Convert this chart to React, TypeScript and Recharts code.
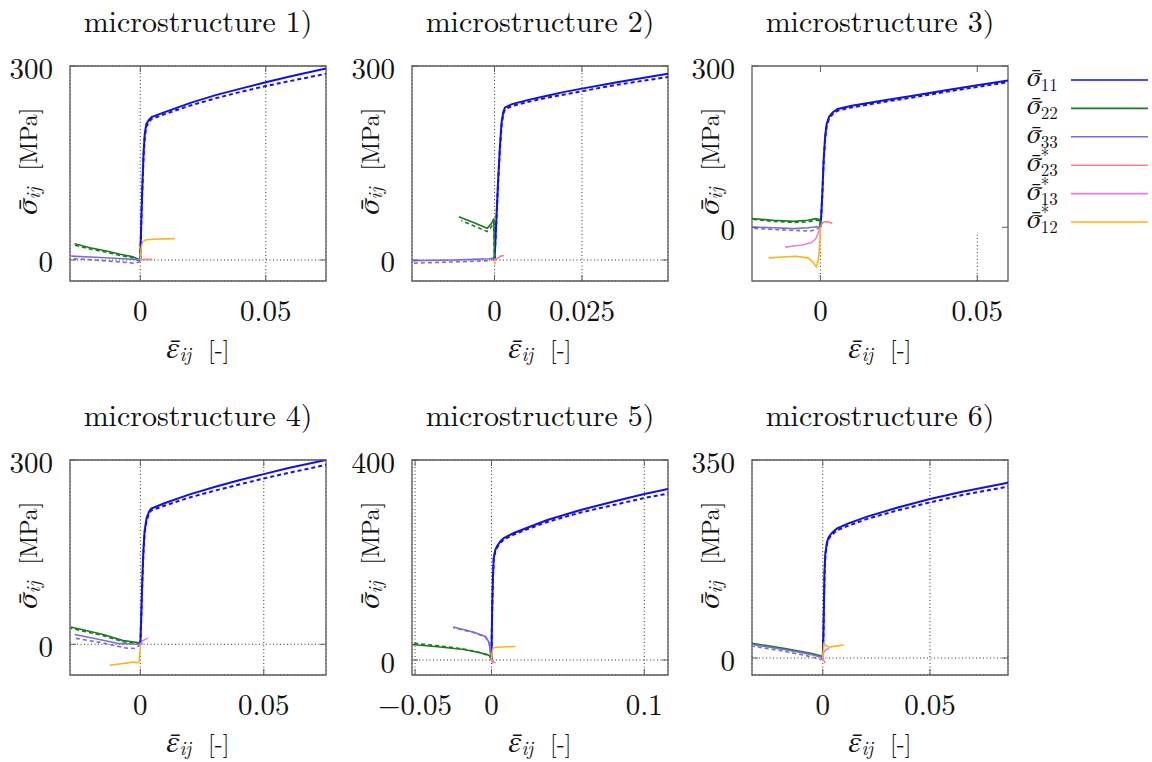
import React from 'react';
import { LineChart, Line, XAxis, YAxis, CartesianGrid, ReferenceArea, ReferenceLine } from 'recharts';

type Pt = [number, number];

// microstructure 1)
const m1S11: Pt[] = [[0, 0], [0.0004, 60], [0.0008, 110], [0.0013, 165], [0.0018, 195], [0.0024, 210], [0.0035, 217], [0.0045, 221], [0.01, 229], [0.02, 243], [0.03, 255], [0.04, 265], [0.05, 275], [0.06, 284], [0.074, 296]];
const m1S11d: Pt[] = [[0, 0], [0.0004, 58], [0.0008, 106], [0.0013, 160], [0.0018, 190], [0.0024, 206], [0.0035, 214], [0.0045, 218], [0.01, 226], [0.02, 239], [0.03, 250], [0.04, 260], [0.05, 269], [0.06, 277], [0.074, 288]];
const m1S22: Pt[] = [[0, 0], [-0.003, 5], [-0.008, 9], [-0.0135, 14], [-0.02, 19], [-0.0262, 25]];
const m1S22d: Pt[] = [[0, -1], [-0.003, 3], [-0.008, 7], [-0.0135, 12], [-0.02, 17], [-0.0262, 23]];
const m1S33: Pt[] = [[0, 0], [-0.005, 1.5], [-0.012, 3], [-0.02, 4.5], [-0.0275, 6]];
const m1S33d: Pt[] = [[0, -2], [-0.002, -5], [-0.008, -3], [-0.015, -1], [-0.022, 1], [-0.0275, 2]];
const m1S23: Pt[] = [[0, 0], [0.002, 1], [0.0048, 1]];
const m1S13: Pt[] = [[0, 0], [0.001, 1]];
const m1S12: Pt[] = [[0, 0], [0.0002, 12], [0.0005, 22], [0.001, 28], [0.002, 31], [0.005, 32], [0.0137, 33]];

// microstructure 2)
const m2S11: Pt[] = [[0, 0], [0.0005, 60], [0.001, 120], [0.0015, 172], [0.002, 212], [0.0025, 229], [0.003, 236], [0.005, 241], [0.01, 248], [0.015, 254], [0.02, 260], [0.025, 265], [0.035, 275], [0.0496, 288]];
const m2S11d: Pt[] = [[0, 0], [0.0005, 58], [0.001, 116], [0.0015, 168], [0.002, 208], [0.0025, 226], [0.003, 233], [0.005, 238], [0.01, 245], [0.015, 251], [0.02, 256], [0.025, 261], [0.035, 271], [0.0496, 283]];
const m2S22: Pt[] = [[0, 0], [-0.0001, 30], [-0.0002, 64], [-0.0008, 57], [-0.0021, 49], [-0.006, 58], [-0.0102, 67]];
const m2S22d: Pt[] = [[0, 0], [-0.0001, 28], [-0.0002, 59], [-0.0008, 52], [-0.0021, 44], [-0.006, 53], [-0.0095, 61]];
const m2S33: Pt[] = [[0, 0], [-0.0005, 3], [-0.0015, 2], [-0.006, 1], [-0.012, 0], [-0.0236, -1]];
const m2S33d: Pt[] = [[0, 0], [-0.0005, 1], [-0.0015, -1], [-0.006, -2], [-0.012, -3], [-0.0236, -5]];
const m2S23: Pt[] = [[0, 0], [0.001, 3], [0.0018, 6], [0.0027, 7]];
const m2S13: Pt[] = [[0, 0], [0.0005, 1]];
const m2S12: Pt[] = [[0, 0], [0.0001, -4], [0.0002, -7]];

// microstructure 3)
const m3S11: Pt[] = [[0, 0], [0.0003, 25], [0.0006, 60], [0.001, 120], [0.0015, 168], [0.002, 192], [0.0028, 206], [0.004, 214], [0.0055, 220], [0.01, 226], [0.02, 236], [0.03, 245], [0.04, 255], [0.05, 264], [0.0598, 273]];
const m3S11d: Pt[] = [[0, 0], [0.0003, 24], [0.0006, 58], [0.001, 116], [0.0015, 164], [0.002, 188], [0.0028, 203], [0.004, 211], [0.0055, 217], [0.01, 223], [0.02, 233], [0.03, 242], [0.04, 252], [0.05, 261], [0.0598, 270]];
const m3S22: Pt[] = [[0, 0], [-0.0001, 14], [-0.0015, 16], [-0.004, 13], [-0.0085, 11], [-0.015, 13], [-0.0218, 16]];
const m3S22d: Pt[] = [[0, 0], [-0.0001, 12], [-0.0015, 13], [-0.004, 10], [-0.0085, 9], [-0.015, 11], [-0.0218, 15]];
const m3S33: Pt[] = [[0, 0], [-0.0013, 1], [-0.004, -1], [-0.0085, -2.5], [-0.015, -1], [-0.0218, 0.5]];
const m3S33d: Pt[] = [[0, 0], [-0.001, -3], [-0.003, -7], [-0.008, -6], [-0.015, -4], [-0.0218, -2]];
const m3S23: Pt[] = [[0, 0], [0.0005, 7], [0.0012, 10], [0.0025, 10], [0.0038, 7]];
const m3S13: Pt[] = [[0, 0], [-0.0003, -4], [-0.0008, -12], [-0.0015, -22], [-0.003, -29], [-0.006, -33], [-0.0112, -37]];
const m3S12: Pt[] = [[0, 0], [-0.0002, -30], [-0.0006, -60], [-0.0013, -74], [-0.0025, -64], [-0.004, -57], [-0.008, -54], [-0.0165, -57]];

// microstructure 4)
const m4S11: Pt[] = [[0, 0], [0.0004, 50], [0.0008, 105], [0.0012, 150], [0.0017, 184], [0.0025, 205], [0.0035, 216], [0.0044, 221], [0.01, 230], [0.02, 244], [0.03, 256], [0.04, 267], [0.05, 277], [0.06, 287], [0.0752, 300]];
const m4S11d: Pt[] = [[0, 0], [0.0004, 48], [0.0008, 102], [0.0012, 146], [0.0017, 180], [0.0025, 201], [0.0035, 213], [0.0044, 218], [0.01, 226], [0.02, 239], [0.03, 250], [0.04, 260], [0.05, 270], [0.06, 279], [0.0752, 292]];
const m4S22: Pt[] = [[0, 0], [-0.001, 3], [-0.007, 6], [-0.015, 16], [-0.0282, 28]];
const m4S22d: Pt[] = [[0, 0], [-0.001, 1], [-0.007, 4], [-0.015, 14], [-0.0282, 26]];
const m4S33: Pt[] = [[0, 0], [-0.004, 0.5], [-0.0084, 1], [-0.018, 9], [-0.0266, 16]];
const m4S33d: Pt[] = [[0, 0], [-0.002, -7], [-0.006, -6], [-0.015, 2], [-0.0266, 10]];
const m4S23: Pt[] = [[0, 0], [0.001, 1]];
const m4S13: Pt[] = [[0, 0], [0.001, 6], [0.0031, 10]];
const m4S12: Pt[] = [[0, 0], [-0.0002, -15], [-0.0005, -29], [-0.001, -30], [-0.003, -29], [-0.0124, -34]];

// microstructure 5)
const m5S11: Pt[] = [[0, 0], [0.0002, 50], [0.0005, 110], [0.001, 170], [0.0015, 205], [0.0025, 220], [0.0037, 228], [0.006, 238], [0.0081, 244], [0.0146, 254], [0.0255, 267], [0.0365, 280], [0.0583, 300], [0.08, 317], [0.1, 332], [0.1155, 342]];
const m5S11d: Pt[] = [[0, 0], [0.0002, 49], [0.0005, 108], [0.001, 167], [0.0015, 202], [0.0025, 217], [0.0037, 225], [0.006, 235], [0.0081, 241], [0.0146, 251], [0.0255, 264], [0.0365, 276], [0.0583, 295], [0.08, 310], [0.1, 324], [0.1155, 333]];
const m5S22: Pt[] = [[0, 0], [-0.0005, 5], [-0.0015, 9], [-0.0028, 11], [-0.008, 15], [-0.0181, 21], [-0.0334, 26], [-0.0519, 31]];
const m5S22d: Pt[] = [[0, 0], [-0.0005, 4], [-0.0015, 8], [-0.0028, 10], [-0.008, 15], [-0.0181, 22], [-0.0334, 28], [-0.0519, 34]];
const m5S33: Pt[] = [[0, 0], [-0.0003, 8], [-0.0008, 18], [-0.0015, 35], [-0.0039, 47], [-0.012, 56], [-0.0251, 66]];
const m5S33d: Pt[] = [[0, 0], [-0.0003, 7], [-0.0008, 16], [-0.0015, 33], [-0.0039, 46], [-0.012, 55], [-0.0251, 65]];
const m5S23: Pt[] = [[0, 0], [0.001, -3], [0.0026, -6]];
const m5S13: Pt[] = [[0, 0], [0.0005, -4], [0.0012, -7]];
const m5S12: Pt[] = [[0, 0], [0.0003, 12], [0.0008, 22], [0.002, 25], [0.006, 26], [0.0157, 27]];

// microstructure 6)
const m6S11: Pt[] = [[0, 0], [0.0003, 40], [0.0005, 79], [0.0008, 150], [0.0012, 185], [0.002, 205], [0.0028, 214], [0.0045, 222], [0.0067, 229], [0.012, 238], [0.0207, 250], [0.035, 266], [0.05, 281], [0.065, 294], [0.0864, 310]];
const m6S11d: Pt[] = [[0, 0], [0.0003, 39], [0.0005, 77], [0.0008, 146], [0.0012, 181], [0.002, 202], [0.0028, 211], [0.0045, 219], [0.0067, 226], [0.012, 234], [0.0207, 246], [0.035, 261], [0.05, 275], [0.065, 288], [0.0864, 303]];
const m6S22: Pt[] = [[0, 0], [-0.001, 4], [-0.005, 8], [-0.0182, 17], [-0.033, 26]];
const m6S22d: Pt[] = [[0, 0], [-0.001, 3], [-0.005, 7], [-0.0182, 16], [-0.033, 25]];
const m6S33: Pt[] = [[0, 0], [-0.001, 2], [-0.005, 6], [-0.018, 15], [-0.033, 24]];
const m6S33d: Pt[] = [[0, 0], [-0.001, -3], [-0.005, 2], [-0.018, 12], [-0.033, 21]];
const m6S23: Pt[] = [[0, 0], [0.0006, -5], [0.0012, -9]];
const m6S13: Pt[] = [[0, 0], [0.0005, 10], [0.0015, 15], [0.003, 17]];
const m6S12: Pt[] = [[0, 0], [0.0003, 15], [0.0006, 26], [0.0015, 22], [0.003, 19], [0.006, 21], [0.0098, 23]];

const components = ['11', '22', '33', '23', '13', '12'];
const componentStarred = [false, false, false, true, true, true];
const componentColors = ['#1010ee', '#1d7a1d', '#7d6cd6', '#f4828c', '#e47fe4', '#fdb515'];

const panelTitles = ['microstructure 1)', 'microstructure 2)', 'microstructure 3)', 'microstructure 4)', 'microstructure 5)', 'microstructure 6)'];
const panelXDomains: Pt[] = [[-0.028, 0.074], [-0.0236, 0.0496], [-0.0218, 0.0598], [-0.0285, 0.0752], [-0.052, 0.1155], [-0.033, 0.0864]];
const panelYDomains: Pt[] = [[-32.5, 300], [-32.5, 300], [-100, 300], [-50, 300], [-30, 400], [-30, 350]];
const panelXTicks = [[0, 0.05], [0, 0.025], [0, 0.05], [0, 0.05], [-0.05, 0, 0.1], [0, 0.05]];
const panelXTickLabels = [['0', '0.05'], ['0', '0.025'], ['0', '0.05'], ['0', '0.05'], ['\u22120.05', '0', '0.1'], ['0', '0.05']];
const panelYTicks = [[0, 300], [0, 300], [0, 300], [0, 300], [0, 400], [0, 350]];

const solidSeries = [
  [m1S11, m1S22, m1S33, m1S23, m1S13, m1S12],
  [m2S11, m2S22, m2S33, m2S23, m2S13, m2S12],
  [m3S11, m3S22, m3S33, m3S23, m3S13, m3S12],
  [m4S11, m4S22, m4S33, m4S23, m4S13, m4S12],
  [m5S11, m5S22, m5S33, m5S23, m5S13, m5S12],
  [m6S11, m6S22, m6S33, m6S23, m6S13, m6S12],
];
const dashedSeries = [
  [m1S11d, m1S22d, m1S33d],
  [m2S11d, m2S22d, m2S33d],
  [m3S11d, m3S22d, m3S33d],
  [m4S11d, m4S22d, m4S33d],
  [m5S11d, m5S22d, m5S33d],
  [m6S11d, m6S22d, m6S33d],
];

const PLOT_LEFT = [70, 412, 752];
const PLOT_TOP = [66, 460];
const PW = 256;
const PH = 215;
const MT = 30;
const FONT = 'Latin Modern Roman';
const GREEK = 'FreeSerif';
const BOX = '#5e5e5e';
const INK = '#111';

const toXY = (pts: Pt[]) => pts.map(([x, y]) => ({ x, y }));

const XTick = (props: any) => {
  const { x, y, payload, ticks, labels } = props;
  const label = labels[ticks.indexOf(payload.value)] ?? String(payload.value);
  return (
    <g>
      <line x1={x} x2={x} y1={y} y2={y - 6} stroke={BOX} />
      <line x1={x} x2={x} y1={y - PH} y2={y - PH + 6} stroke={BOX} />
      <text x={x} y={y + 27} textAnchor="middle" dominantBaseline="central" fontSize={29} fontFamily={FONT} fill={INK}>
        {label}
      </text>
    </g>
  );
};

const YTick = (props: any) => {
  const { x, y, payload } = props;
  return (
    <g>
      <line x1={x} x2={x + 6} y1={y} y2={y} stroke={BOX} />
      <line x1={x + PW} x2={x + PW - 6} y1={y} y2={y} stroke={BOX} />
      <text x={x - 17} y={y} textAnchor="end" dominantBaseline="central" fontSize={29} fontFamily={FONT} fill={INK}>
        {String(payload.value)}
      </text>
    </g>
  );
};

function Panel({ idx }: { idx: number }) {
  const left = PLOT_LEFT[idx % 3];
  const top = PLOT_TOP[Math.floor(idx / 3)];
  const [x0, x1] = panelXDomains[idx];
  const [y0, y1] = panelYDomains[idx];
  const xTicks = panelXTicks[idx];
  const fullGrid = idx !== 2;
  return (
    <div style={{ position: 'absolute', left: left - 70, top: top - MT }}>
      <LineChart width={70 + PW + 14} height={MT + PH + 50} margin={{ top: MT, right: 14, bottom: 0, left: 0 }}>
        {fullGrid && <CartesianGrid stroke="#333" strokeDasharray="1 2.5" />}
        <XAxis
          type="number"
          dataKey="x"
          domain={[x0, x1]}
          allowDataOverflow
          ticks={xTicks}
          interval={0}
          height={50}
          tickSize={0}
          tickMargin={0}
          axisLine={false}
          tickLine={false}
          tick={(p: any) => <XTick {...p} ticks={xTicks} labels={panelXTickLabels[idx]} />}
        />
        <YAxis
          type="number"
          dataKey="y"
          domain={[y0, y1]}
          allowDataOverflow
          ticks={panelYTicks[idx]}
          interval={0}
          width={70}
          tickSize={0}
          tickMargin={0}
          axisLine={false}
          tickLine={false}
          tick={(p: any) => <YTick {...p} />}
        />
        {!fullGrid && (
          <ReferenceLine segment={[{ x: 0, y: y0 }, { x: 0, y: -5 }]} stroke="#333" strokeDasharray="1 2.5" />
        )}
        {!fullGrid && (
          <ReferenceLine segment={[{ x: 0.05, y: y0 }, { x: 0.05, y: -12 }]} stroke="#333" strokeDasharray="1 2.5" />
        )}
        <ReferenceArea x1={x0} x2={x1} y1={y0} y2={y1} fill="none" stroke={BOX} strokeWidth={1.3} />
        {dashedSeries[idx].map((pts, i) => (
          <Line
            key={'d' + i}
            data={toXY(pts)}
            dataKey="y"
            type="linear"
            stroke={componentColors[i]}
            strokeWidth={i === 0 ? 2 : 1.6}
            strokeDasharray="4 3"
            dot={false}
            activeDot={false}
            isAnimationActive={false}
          />
        ))}
        {solidSeries[idx].map((pts, i) => (
          <Line
            key={'s' + i}
            data={toXY(pts)}
            dataKey="y"
            type="linear"
            stroke={componentColors[i]}
            strokeWidth={i === 0 ? 2 : 1.6}
            dot={false}
            activeDot={false}
            isAnimationActive={false}
          />
        ))}
      </LineChart>
    </div>
  );
}

// σ̄_ij [unit] style label; the bar comes from a combining macron
function AxisLabel({ greek, unit, x, y, rotate }: { greek: string; unit: string; x: number; y: number; rotate: boolean }) {
  return (
    <text
      x={x}
      y={y}
      textAnchor="middle"
      dominantBaseline="central"
      fontSize={24}
      fontFamily={FONT}
      fill={INK}
      transform={rotate ? `rotate(-90 ${x} ${y})` : undefined}
    >
      <tspan fontFamily={GREEK} fontStyle="italic" fontSize={31}>{greek + '\u0304'}</tspan>
      <tspan fontStyle="italic" fontSize={19} dy={5}>ij</tspan>
      <tspan dx={5} dy={-5}>{'\u00a0' + unit}</tspan>
    </text>
  );
}

function Labels() {
  return (
    <svg width={1152} height={762} style={{ position: 'absolute', left: 0, top: 0, pointerEvents: 'none' }}>
      {panelTitles.map((t, idx) => {
        const left = PLOT_LEFT[idx % 3];
        const top = PLOT_TOP[Math.floor(idx / 3)];
        const cx = left + PW / 2;
        return (
          <g key={t}>
            <text x={cx} y={top - 34} textAnchor="middle" fontSize={30} fontFamily={FONT} fill={INK}>
              {t}
            </text>
            <AxisLabel greek={'\u03c3'} unit="[MPa]" x={left - 43} y={top + 95} rotate />
            <AxisLabel greek={'\u03b5'} unit="[-]" x={cx} y={top + PH + 67} rotate={false} />
          </g>
        );
      })}
      {components.map((c, i) => {
        const cy = 80 + i * 28.4;
        const starred = componentStarred[i];
        return (
          <g key={c}>
            <text x={1027} y={cy + 6} fontSize={25} fontFamily={FONT} fill={INK}>
              <tspan fontFamily={GREEK} fontStyle="italic" fontSize={28}>{'\u03c3\u0304'}</tspan>
              {starred && <tspan fontSize={17} dy={-10}>*</tspan>}
              <tspan fontSize={17} dx={starred ? -8.5 : 0} dy={starred ? 15 : 5}>
                {c}
              </tspan>
            </text>
            <line x1={1071} x2={1148} y1={cy} y2={cy} stroke={componentColors[i]} strokeWidth={1.6} />
          </g>
        );
      })}
    </svg>
  );
}

export default function App() {
  return (
    <div style={{ position: 'absolute', left: 0, top: 0, width: 1152, height: 762, background: '#fff' }}>
      {panelTitles.map((t, idx) => (
        <Panel key={t} idx={idx} />
      ))}
      <Labels />
    </div>
  );
}
